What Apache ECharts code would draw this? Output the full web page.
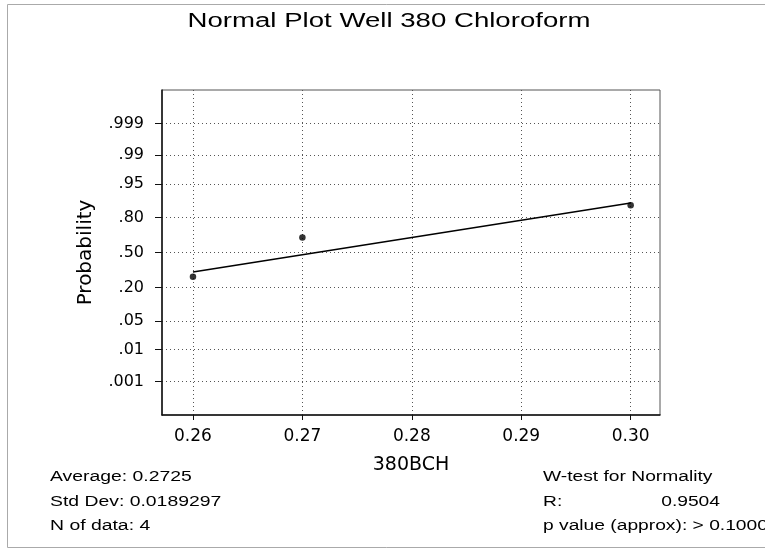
<!DOCTYPE html>
<html>
<head>
<meta charset="utf-8">
<script src="https://cdn.jsdelivr.net/npm/echarts@6/dist/echarts.min.js"></script>
<style>
html,body{margin:0;padding:0;background:#fff;}
#chart{width:765px;height:550px;}
</style>
</head>
<body>
<div id="chart"></div>
<script>
// ---- data ----
var pointX = [0.26, 0.27, 0.30];
var pointProb = [0.280, 0.640, 0.871];
var lineX = [0.26, 0.30];
var lineProb = [0.321, 0.882];
var xTicks = [0.26, 0.27, 0.28, 0.29, 0.30];
var yTickProbs = [0.001, 0.01, 0.05, 0.20, 0.50, 0.80, 0.95, 0.99, 0.999];
var yTickLabels = ['.001', '.01', '.05', '.20', '.50', '.80', '.95', '.99', '.999'];
var yRangeProb = [0.00005, 0.99995];
var xRange = [0.25717, 0.30268];
var titleText = 'Normal Plot Well 380 Chloroform';
var xName = '380BCH';
var yName = 'Probability';
var leftStats = ['Average: 0.2725', 'Std Dev: 0.0189297', 'N of data: 4'];
var rightStats = ['W-test for Normality', 'R:', 'p value (approx): > 0.1000'];
var rValue = '0.9504';

// inverse standard normal CDF (Acklam) - probability scale transform
function invNorm(p) {
  var a = [-3.969683028665376e+01, 2.209460984245205e+02, -2.759285104469687e+02, 1.383577518672690e+02, -3.066479806614716e+01, 2.506628277459239e+00];
  var b = [-5.447609879822406e+01, 1.615858368580409e+02, -1.556989798598866e+02, 6.680131188771972e+01, -1.328068155288572e+01];
  var c = [-7.784894002430293e-03, -3.223964580411365e-01, -2.400758277161838e+00, -2.549732539343734e+00, 4.374664141464968e+00, 2.938163982698783e+00];
  var d = [7.784695709041462e-03, 3.224671290700398e-01, 2.445134137142996e+00, 3.754408661907416e+00];
  var pl = 0.02425, q, r;
  if (p < pl) {
    q = Math.sqrt(-2 * Math.log(p));
    return (((((c[0]*q+c[1])*q+c[2])*q+c[3])*q+c[4])*q+c[5]) / ((((d[0]*q+d[1])*q+d[2])*q+d[3])*q+1);
  } else if (p <= 1 - pl) {
    q = p - 0.5; r = q * q;
    return (((((a[0]*r+a[1])*r+a[2])*r+a[3])*r+a[4])*r+a[5])*q / (((((b[0]*r+b[1])*r+b[2])*r+b[3])*r+b[4])*r+1);
  } else {
    q = Math.sqrt(-2 * Math.log(1 - p));
    return -(((((c[0]*q+c[1])*q+c[2])*q+c[3])*q+c[4])*q+c[5]) / ((((d[0]*q+d[1])*q+d[2])*q+d[3])*q+1);
  }
}

var yTickZ = yTickProbs.map(invNorm);
var points = pointX.map(function (x, i) { return [x, invNorm(pointProb[i])]; });
var linePts = lineX.map(function (x, i) { return [x, invNorm(lineProb[i])]; });

var FONT = 'DejaVu Sans';
var STAT_FONT = 'Liberation Sans';
var statY = [477, 501.5, 525.5];

var graphics = [
  { type: 'rect', shape: { x: 7.5, y: 4.5, width: 780, height: 543 }, style: { fill: 'none', stroke: '#aaa', lineWidth: 1 }, silent: true, z: -1 },
  { type: 'text', x: 389, y: 21.5, scaleX: 1.38, style: { text: titleText, fontFamily: STAT_FONT, fontSize: 20, fill: '#000', align: 'center', verticalAlign: 'middle' } }
];
leftStats.forEach(function (t, i) {
  graphics.push({ type: 'text', x: 50, y: statY[i], scaleX: 1.25, style: { text: t, fontFamily: STAT_FONT, fontSize: 15.5, fill: '#000', align: 'left', verticalAlign: 'middle' } });
});
rightStats.forEach(function (t, i) {
  graphics.push({ type: 'text', x: 543, y: statY[i], scaleX: 1.24, style: { text: t, fontFamily: STAT_FONT, fontSize: 15.5, fill: '#000', align: 'left', verticalAlign: 'middle' } });
});
graphics.push({ type: 'text', x: 720, y: statY[1], scaleX: 1.24, style: { text: rValue, fontFamily: STAT_FONT, fontSize: 15.5, fill: '#000', align: 'right', verticalAlign: 'middle' } });

var chart = echarts.init(document.getElementById('chart'));
chart.setOption({
  animation: false,
  backgroundColor: '#fff',
  graphic: graphics,
  grid: { left: 162, right: 105, top: 90, bottom: 135, show: true, borderColor: '#555', borderWidth: 1, backgroundColor: 'transparent' },
  xAxis: {
    type: 'value',
    min: xRange[0], max: xRange[1],
    name: xName, nameLocation: 'middle', nameGap: 41,
    nameTextStyle: { fontFamily: FONT, fontSize: 19, color: '#000' },
    axisLine: { show: true, onZero: false, lineStyle: { color: '#111', width: 1.5 } },
    axisTick: { show: true, length: 5, customValues: xTicks, lineStyle: { color: '#111' } },
    axisLabel: { customValues: xTicks, margin: 13, fontFamily: FONT, fontSize: 17, color: '#000', formatter: function (v) { return v.toFixed(2); } },
    splitLine: { show: true, lineStyle: { color: '#555', type: [1, 3], width: 1 } }
  },
  yAxis: {
    type: 'value',
    min: invNorm(yRangeProb[0]), max: invNorm(yRangeProb[1]),
    name: yName, nameLocation: 'middle', nameGap: 66, nameRotate: 90,
    nameTextStyle: { fontFamily: FONT, fontSize: 20, color: '#000' },
    axisLine: { show: true, onZero: false, lineStyle: { color: '#111', width: 1.5 } },
    axisTick: { show: true, length: 7, customValues: yTickZ, lineStyle: { color: '#111' } },
    axisLabel: {
      customValues: yTickZ, margin: 18, fontFamily: FONT, fontSize: 16, color: '#000',
      formatter: function (v) {
        for (var i = 0; i < yTickZ.length; i++) { if (Math.abs(yTickZ[i] - v) < 1e-6) return yTickLabels[i]; }
        return '';
      }
    },
    splitLine: { show: true, lineStyle: { color: '#555', type: [1, 3], width: 1 } }
  },
  series: [
    { type: 'line', data: linePts, symbol: 'none', lineStyle: { color: '#000', width: 1.5 }, z: 3 },
    { type: 'scatter', data: points, symbol: 'circle', symbolSize: 6.5, itemStyle: { color: '#000' }, z: 4 }
  ]
});
</script>
</body>
</html>
